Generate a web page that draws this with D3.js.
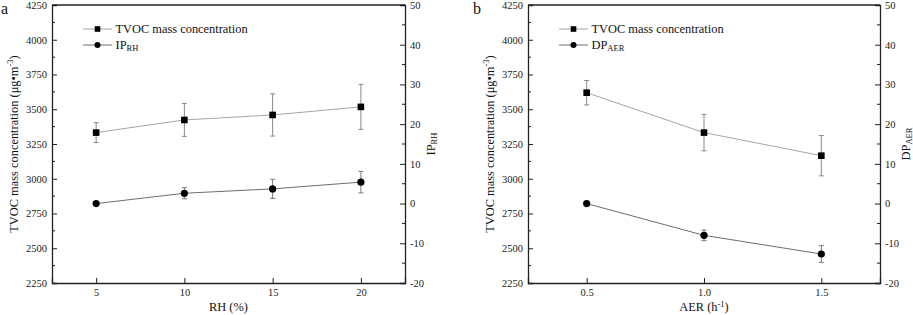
<!DOCTYPE html>
<html>
<head>
<meta charset="utf-8">
<script src="https://cdn.jsdelivr.net/npm/d3@7"></script>
<style>
  body { margin: 0; background: #fff; }
  svg { font-family: "Liberation Serif", "DejaVu Serif", serif; }
</style>
</head>
<body>
<svg id="chart" width="913" height="315"></svg>
<script>
// panel a: RH
const rhValues = [5, 10, 15, 20];
const rhTvoc = [3332, 3423, 3459, 3517];
const rhTvocErr = [72, 118, 152, 162];
const rhIP = [0, 2.6, 3.7, 5.4];
const rhIPErr = [0, 1.4, 2.4, 2.7];
const rhTicks = [5, 10, 15, 20];

// panel b: AER
const aerValues = [0.5, 1.0, 1.5];
const aerTvoc = [3619, 3332, 3166];
const aerTvocErr = [88, 131, 145];
const aerDP = [0, -8.0, -12.7];
const aerDPErr = [0, 1.35, 2.1];
const aerTicks = [0.5, 1.0, 1.5];

const leftTicks = [2250, 2500, 2750, 3000, 3250, 3500, 3750, 4000, 4250];
const rightTicks = [-20, -10, 0, 10, 20, 30, 40, 50];

const svg = d3.select("#chart");

function drawPanel(o) {
  const g = svg.append("g").attr("transform", `translate(${o.left},5)`);
  const w = o.width, h = 278;

  const x = d3.scaleLinear().domain(o.xDomain).range([0, w]);
  const yL = d3.scaleLinear().domain([2250, 4250]).range([h, 0]);
  const yR = d3.scaleLinear().domain([-20, 50]).range([h, 0]);

  // minor ticks
  const minorL = d3.range(2375, 4250, 250);
  const minorR = d3.range(-15, 50, 10);
  g.selectAll(".mL").data(minorL).enter().append("line")
    .attr("x1", 0).attr("x2", 3).attr("y1", d => yL(d)).attr("y2", d => yL(d))
    .attr("stroke", "#222").attr("stroke-width", 1);
  g.selectAll(".mR").data(minorR).enter().append("line")
    .attr("x1", w).attr("x2", w - 3).attr("y1", d => yR(d)).attr("y2", d => yR(d))
    .attr("stroke", "#222").attr("stroke-width", 1);

  // axes (ticks point inward)
  const axL = g.append("g")
    .call(d3.axisLeft(yL).tickValues(leftTicks).tickFormat(d => String(d)).tickSize(-5).tickPadding(5));
  const axR = g.append("g").attr("transform", `translate(${w},0)`)
    .call(d3.axisRight(yR).tickValues(rightTicks).tickFormat(d => String(d)).tickSize(-5).tickPadding(5));
  const axB = g.append("g").attr("transform", `translate(0,${h})`)
    .call(d3.axisBottom(x).tickValues(o.xTicks).tickFormat(o.xFormat).tickSize(-5).tickPadding(6));
  [axL, axR, axB].forEach(a => {
    a.select(".domain").attr("stroke", "#222").attr("stroke-width", 1.3);
    a.selectAll(".tick line").attr("stroke", "#222");
    a.selectAll("text").attr("font-family", "Liberation Serif").attr("font-size", 10.5).attr("fill", "#222");
  });
  // top frame
  g.append("line").attr("x1", 0).attr("x2", w).attr("y1", 0).attr("y2", 0)
    .attr("stroke", "#222").attr("stroke-width", 1.3);

  // series
  const s1 = o.xs.map((v, i) => ({x: v, y: o.tvoc[i], e: o.tvocErr[i]}));
  const s2 = o.xs.map((v, i) => ({x: v, y: o.ip[i], e: o.ipErr[i]}));

  const drawErr = (data, ys, color) => {
    const eg = g.append("g").attr("stroke", color).attr("stroke-width", 1);
    data.filter(d => d.e > 0).forEach(d => {
      const cx = x(d.x);
      eg.append("line").attr("x1", cx).attr("x2", cx).attr("y1", ys(d.y - d.e)).attr("y2", ys(d.y + d.e));
      eg.append("line").attr("x1", cx - 2.5).attr("x2", cx + 2.5).attr("y1", ys(d.y - d.e)).attr("y2", ys(d.y - d.e));
      eg.append("line").attr("x1", cx - 2.5).attr("x2", cx + 2.5).attr("y1", ys(d.y + d.e)).attr("y2", ys(d.y + d.e));
    });
  };
  drawErr(s1, yL, "#8a8a8a");
  drawErr(s2, yR, "#7a7a7a");

  g.append("path").datum(s1)
    .attr("d", d3.line().x(d => x(d.x)).y(d => yL(d.y)))
    .attr("fill", "none").attr("stroke", "#a5a5a5").attr("stroke-width", 1);
  g.append("path").datum(s2)
    .attr("d", d3.line().x(d => x(d.x)).y(d => yR(d.y)))
    .attr("fill", "none").attr("stroke", "#6e6e6e").attr("stroke-width", 1);

  g.selectAll(".sq").data(s1).enter().append("rect")
    .attr("x", d => x(d.x) - 3.3).attr("y", d => yL(d.y) - 3.3)
    .attr("width", 6.6).attr("height", 6.6).attr("fill", "#000");
  g.selectAll(".ci").data(s2).enter().append("circle")
    .attr("cx", d => x(d.x)).attr("cy", d => yR(d.y)).attr("r", 3.6).attr("fill", "#000");

  // legend
  const lg = g.append("g").attr("transform", "translate(31,24)");
  lg.append("line").attr("x1", 0).attr("x2", 29).attr("y1", 0).attr("y2", 0).attr("stroke", "#a5a5a5");
  lg.append("rect").attr("x", 11.7).attr("y", -2.8).attr("width", 5.6).attr("height", 5.6);
  lg.append("text").attr("x", 32.5).attr("y", 4.3).attr("font-size", 12.4).attr("fill", "#111")
    .text("TVOC mass concentration");
  lg.append("line").attr("x1", 0).attr("x2", 29).attr("y1", 16).attr("y2", 16).attr("stroke", "#6e6e6e");
  lg.append("circle").attr("cx", 14.5).attr("cy", 16).attr("r", 3);
  const t2 = lg.append("text").attr("x", 32.5).attr("y", 20.3).attr("font-size", 12.4).attr("fill", "#111");
  t2.append("tspan").text(o.ipName);
  t2.append("tspan").attr("font-size", 8.5).attr("dy", 2).text(o.ipSub);

  // axis titles
  const ty = g.append("text").attr("transform", `translate(${o.yTitleX},${h / 2}) rotate(-90)`)
    .attr("text-anchor", "middle").attr("font-size", 12.4).attr("fill", "#111");
  ty.append("tspan").text("TVOC mass concentration (μg•m");
  ty.append("tspan").attr("font-size", 8.5).attr("dy", -5).text("-3");
  ty.append("tspan").attr("dy", 5).text(")");

  const tr = g.append("text").attr("transform", `translate(${w + o.rTitleDx},${h / 2}) rotate(-90)`)
    .attr("text-anchor", "middle").attr("font-size", 12.4).attr("fill", "#111");
  tr.append("tspan").text(o.ipName);
  tr.append("tspan").attr("font-size", 8.5).attr("dy", 2).text(o.ipSub);

  const tx = g.append("text").attr("x", w / 2).attr("y", h + 28).attr("text-anchor", "middle")
    .attr("font-size", 12.4).attr("fill", "#111");
  tx.append("tspan").text(o.xName);
  if (o.xSup) {
    tx.append("tspan").attr("font-size", 8.5).attr("dy", -4).text(o.xSup);
    tx.append("tspan").attr("dy", 4).text(")");
  }

  svg.append("text").attr("x", o.labelX).attr("y", 14).attr("font-size", 16).attr("fill", "#111").text(o.label);
}

drawPanel({
  left: 52, width: 353, xDomain: [2.5, 22.5], xTicks: rhTicks, xFormat: d3.format("d"),
  xs: rhValues, tvoc: rhTvoc, tvocErr: rhTvocErr, ip: rhIP, ipErr: rhIPErr,
  ipName: "IP", ipSub: "RH", xName: "RH (%)", xSup: null,
  yTitleX: -34, rTitleDx: 30, label: "a", labelX: 1
});

drawPanel({
  left: 528, width: 352, xDomain: [0.25, 1.75], xTicks: aerTicks, xFormat: d3.format(".1f"),
  xs: aerValues, tvoc: aerTvoc, tvocErr: aerTvocErr, ip: aerDP, ipErr: aerDPErr,
  ipName: "DP", ipSub: "AER", xName: "AER (h", xSup: "-1",
  yTitleX: -34, rTitleDx: 30, label: "b", labelX: 473
});
</script>
</body>
</html>
